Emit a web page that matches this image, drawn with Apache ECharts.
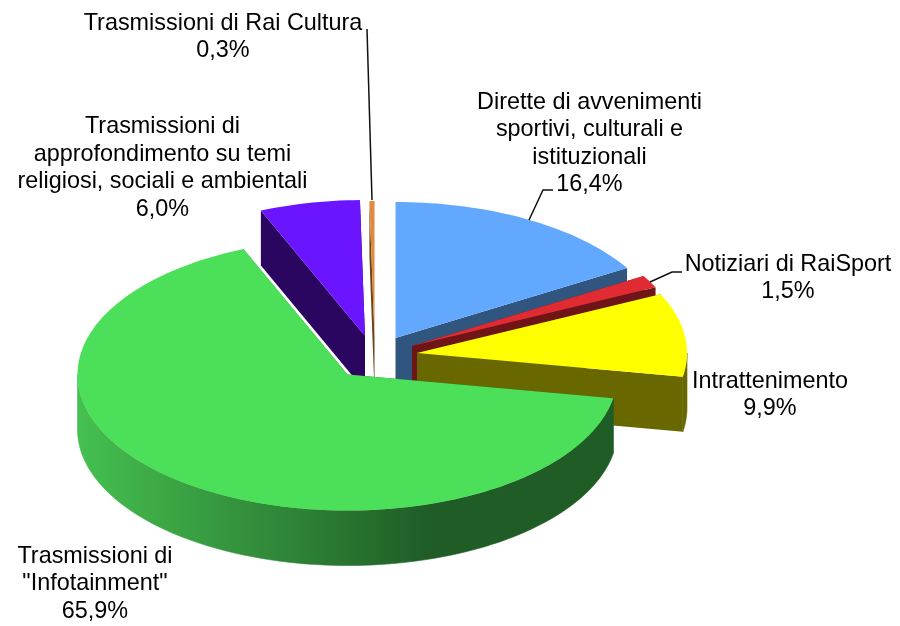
<!DOCTYPE html>
<html>
<head>
<meta charset="utf-8">
<style>html,body{margin:0;padding:0;background:#fff}#c{width:900px;height:626px}</style>
<script src="https://cdn.jsdelivr.net/npm/echarts@6/dist/echarts.min.js"></script>
</head>
<body>
<div id="c"></div>
<script>
// Data, clockwise from 12 o'clock
const categories = [
  "Dirette di avvenimenti\nsportivi, culturali e\nistituzionali",
  "Notiziari di RaiSport",
  "Intrattenimento",
  "Trasmissioni di\n\"Infotainment\"",
  "Trasmissioni di\napprofondimento su temi\nreligiosi, sociali e ambientali",
  "Trasmissioni di Rai Cultura"
];
const shares = [16.4, 1.5, 9.9, 65.9, 6.0, 0.3];
const shareLabels = ["16,4%", "1,5%", "9,9%", "65,9%", "6,0%", "0,3%"];

// Layout and styles
const RX = 270, RY = 136, DEPTH = 55;
const centres = [[395.5,338],[412,346],[417,353],[347.5,374.5],[365,336],[374.5,337]];
const topColors = ["#63A8FF","#DF2B31","#FFFF00","#4CE05A","#6A14FF","#E08A3C"];
const wallColors = ["#30557F","#6F1518","#696800",null,"#2A0660","#6E4518"];
const labelPos = [[589.5,143.5],[788,278],[770,395],[95,584],[162.5,168],[223,37]];
const leaders = [
  [[553,190],[543,190],[529,220]],
  [[682,272],[672,272],[650,282]],
  null, null, null,
  [[367,29],[372,200]]
];
const drawOrder = [4,5,0,1,2,3];

const starts = [];
shares.reduce((acc, v, i) => { starts[i] = acc; return acc + v; }, 0);
const total = shares.reduce((a, b) => a + b, 0);

function pt(c, deg, dy) {
  const t = deg * Math.PI / 180;
  return [c[0] + RX * Math.sin(t), c[1] - RY * Math.cos(t) + (dy || 0)];
}
function arc(c, a0, a1, dy) {
  const n = Math.max(2, Math.ceil(Math.abs(a1 - a0) / 1.5));
  const out = [];
  for (let i = 0; i <= n; i++) out.push(pt(c, a0 + (a1 - a0) * i / n, dy));
  return out;
}
const greenWall = new echarts.graphic.LinearGradient(78, 0, 613, 0, [
  {offset: 0, color: "#45C050"},
  {offset: 0.66, color: "#1F5C26"},
  {offset: 1, color: "#1F5C26"}
], true);

function renderItem(params, api) {
  const idx = api.value(0);
  const c = centres[idx];
  const a0 = api.value(1) / total * 360;
  const a1 = (api.value(1) + api.value(2)) / total * 360;
  const wall = wallColors[idx] || greenWall;
  const children = [];
  const poly = (points, fill, stroke) => children.push({
    type: "polygon", shape: {points},
    style: {fill, stroke: stroke || null, lineWidth: stroke ? 0.6 : 0}
  });
  const cb = [c[0], c[1] + DEPTH];
  // radial cut faces
  poly([c, pt(c, a0), pt(c, a0, DEPTH), cb], wall);
  poly([c, pt(c, a1), pt(c, a1, DEPTH), cb], wall);
  // outer rim, front half only
  const f0 = Math.max(a0, 90), f1 = Math.min(a1, 270);
  if (f1 > f0) {
    poly(arc(c, f0, f1).concat(arc(c, f1, f0, DEPTH)), wall, wall);
  }
  // top face
  poly([c].concat(arc(c, a0, a1)), topColors[idx]);
  return {type: "group", children};
}

function renderLabel(params, api) {
  const idx = api.value(0);
  const children = [];
  if (leaders[idx]) children.push({
    type: "polyline", shape: {points: leaders[idx]},
    style: {stroke: "#111", lineWidth: 1.5, fill: null}
  });
  children.push({
    type: "text", x: labelPos[idx][0], y: labelPos[idx][1],
    style: {
      text: categories[idx] + "\n" + shareLabels[idx],
      fontFamily: "Liberation Sans", fontSize: 23.4, lineHeight: 27.5,
      fill: "#000", align: "center", verticalAlign: "middle"
    }
  });
  return {type: "group", children};
}

const sliceData = drawOrder.map(i => [i, starts[i], shares[i]]);
const chart = echarts.init(document.getElementById("c"), null, {renderer: "canvas"});
chart.setOption({
  backgroundColor: "#fff",
  animation: false,
  series: [
    {type: "custom", coordinateSystem: "none", renderItem, data: sliceData, silent: true, z: 2},
    {type: "custom", coordinateSystem: "none", renderItem: renderLabel, data: sliceData, silent: true, z: 3}
  ]
});
</script>
</body>
</html>
